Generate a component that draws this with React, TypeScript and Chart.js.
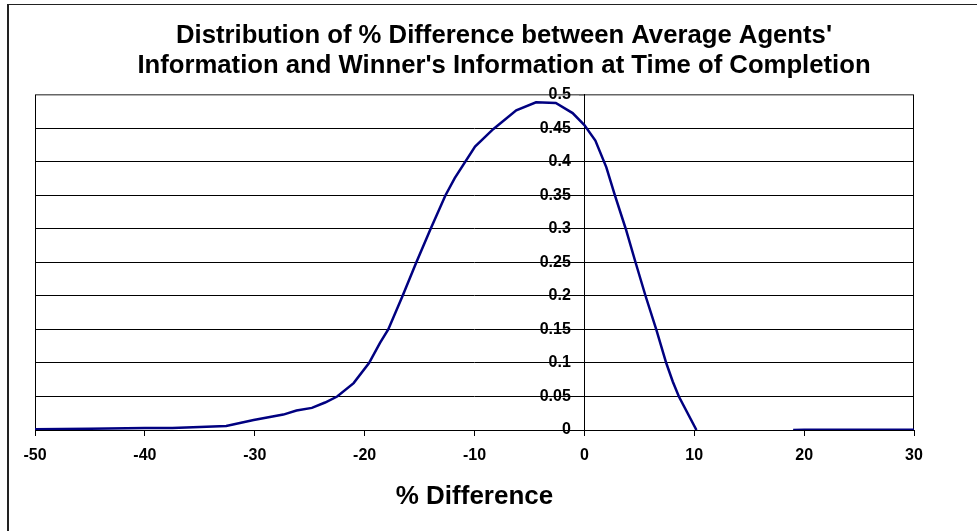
import React, { useEffect, useRef } from "react";
import { Chart, registerables } from "chart.js";

Chart.register(...registerables);

const titleLines = [
  "Distribution of % Difference between Average Agents'",
  "Information and Winner's Information at Time of Completion",
];
const xAxisTitle = "% Difference";

const xValues = [
  -50, -45, -40, -37.5, -35, -32.6, -30.1, -27.4, -26.2, -24.8, -23.6, -22.5, -21,
  -19.6, -18.6, -17.85, -16.55, -15.3, -14, -12.65, -11.8, -9.95, -8.3, -6.2, -4.4,
  -2.6, -1.07, 0, 1, 2, 2.78, 3.77, 4.66, 5.57, 6.54, 7.45, 8.05, 8.6, 10.2, 15, 19,
  20, 30,
];
const yValues = [
  0.001, 0.002, 0.003, 0.003, 0.0045, 0.006, 0.015, 0.023, 0.029, 0.033, 0.041, 0.05,
  0.07, 0.1, 0.13, 0.15, 0.2, 0.25, 0.3, 0.35, 0.376, 0.423, 0.449, 0.477, 0.489,
  0.488, 0.473, 0.455, 0.432, 0.392, 0.35, 0.3, 0.25, 0.2, 0.15, 0.1, 0.072, 0.05, 0,
  null, 0, 0.0005, 0.0005,
];

const xTicks = [-50, -40, -30, -20, -10, 0, 10, 20, 30];
const yTicks = [0, 0.05, 0.1, 0.15, 0.2, 0.25, 0.3, 0.35, 0.4, 0.45, 0.5];
const yTickLabels = ["0", "0.05", "0.1", "0.15", "0.2", "0.25", "0.3", "0.35", "0.4", "0.45", "0.5"];

const FONT = "'Liberation Sans', Arial, Helvetica, sans-serif";

const plotBorder = {
  id: "plotBorder",
  beforeDatasetsDraw(chart: any) {
    const { ctx, chartArea } = chart;
    ctx.save();
    ctx.strokeStyle = "#000";
    ctx.lineWidth = 1;
    ctx.beginPath();
    const l = Math.round(chartArea.left) + 0.5;
    const r = Math.round(chartArea.right) - 0.5;
    ctx.moveTo(l, chartArea.top);
    ctx.lineTo(l, chartArea.bottom);
    ctx.moveTo(r, chartArea.top);
    ctx.lineTo(r, chartArea.bottom);
    ctx.stroke();
    ctx.restore();
  },
};

const spacer = (w: number, pos: string) => ({
  type: "linear",
  position: pos,
  display: true,
  ticks: { display: false },
  grid: { display: false },
  border: { display: false },
  afterFit: (scale: any) => {
    scale.width = w;
  },
});

export default function App() {
  const ref = useRef<HTMLCanvasElement | null>(null);

  useEffect(() => {
    if (!ref.current) return;
    const data = xValues.map((x, i) => ({ x, y: yValues[i] }));
    const chart = new Chart(ref.current, {
      type: "line",
      data: {
        datasets: [
          {
            data: data as any,
            xAxisID: "x",
            yAxisID: "y",
            borderColor: "#000080",
            borderWidth: 2.5,
            pointRadius: 0,
            tension: 0,
            spanGaps: false,
            fill: false,
          },
        ],
      },
      plugins: [plotBorder],
      options: {
        animation: false,
        responsive: false,
        devicePixelRatio: 1,
        layout: { padding: { left: 0, right: 0, top: 0, bottom: 0 } },
        plugins: {
          legend: { display: false },
          tooltip: { enabled: false },
          title: {
            display: true,
            text: titleLines,
            color: "#000",
            font: { family: FONT, size: 25.7, weight: "bold", lineHeight: 1.167 },
            padding: { top: 16, bottom: 14 },
          },
        },
        scales: {
          x: {
            type: "linear",
            min: -50,
            max: 30,
            afterBuildTicks: (scale: any) => {
              scale.ticks = xTicks.map((v) => ({ value: v }));
            },
            afterFit: (scale: any) => {
              scale.height = 101;
            },
            ticks: {
              color: "#000",
              font: { family: FONT, size: 16, weight: "bold", lineHeight: 1.2 },
              padding: 10,
              maxRotation: 0,
              autoSkip: false,
              callback: (v: any) => String(v),
            },
            grid: {
              display: true,
              drawOnChartArea: false,
              drawTicks: true,
              tickLength: 6,
              color: "#000",
            },
            border: { display: true, color: "#000", width: 1 },
            title: {
              display: true,
              text: xAxisTitle,
              color: "#000",
              font: { family: FONT, size: 26, weight: "bold", lineHeight: 1.2 },
              padding: { top: 0, bottom: 19 },
            },
          },
          // value axis carrying the tick labels, set just left of x = 0
          y: {
            type: "linear",
            position: { x: -1.23 } as any,
            min: 0,
            max: 0.5,
            afterBuildTicks: (scale: any) => {
              scale.ticks = yTicks.map((v) => ({ value: v }));
            },
            ticks: {
              color: "#000",
              font: { family: FONT, size: 16, weight: "bold", lineHeight: 1.2 },
              autoSkip: false,
              callback: (_v: any, i: number) => yTickLabels[i],
            },
            grid: { display: false },
            border: { display: false },
          },
          // axis line, tick marks and gridlines at x = 0
          yLine: {
            type: "linear",
            axis: "y",
            position: { x: 0 } as any,
            min: 0,
            max: 0.5,
            afterBuildTicks: (scale: any) => {
              scale.ticks = yTicks.map((v) => ({ value: v }));
            },
            ticks: { display: false },
            grid: {
              display: true,
              drawOnChartArea: true,
              drawTicks: true,
              tickLength: 5,
              color: (ctx: any) => (ctx.tick && ctx.tick.value === 0.5 ? "#666" : "#000"),
              lineWidth: (ctx: any) => (ctx.tick && ctx.tick.value === 0.5 ? 1.5 : 1),
            },
            border: { display: true, color: "#000", width: 1 },
          },
          yLeftPad: spacer(26, "left") as any,
          yRightPad: spacer(85, "right") as any,
        },
      },
    });
    return () => chart.destroy();
  }, []);

  return (
    <div
      style={{
        position: "fixed",
        left: 0,
        top: 0,
        width: 977,
        height: 531,
        overflow: "hidden",
        background: "#fff",
      }}
    >
      <div
        style={{
          position: "absolute",
          left: 7,
          top: 4,
          width: 1000,
          height: 540,
          borderLeft: "2px solid #222",
          borderTop: "1px solid #222",
          background: "#fff",
        }}
      >
        <canvas
          ref={ref}
          width={990}
          height={526}
          style={{ position: "absolute", left: 0, top: 0, width: 990, height: 526 }}
        />
      </div>
    </div>
  );
}
